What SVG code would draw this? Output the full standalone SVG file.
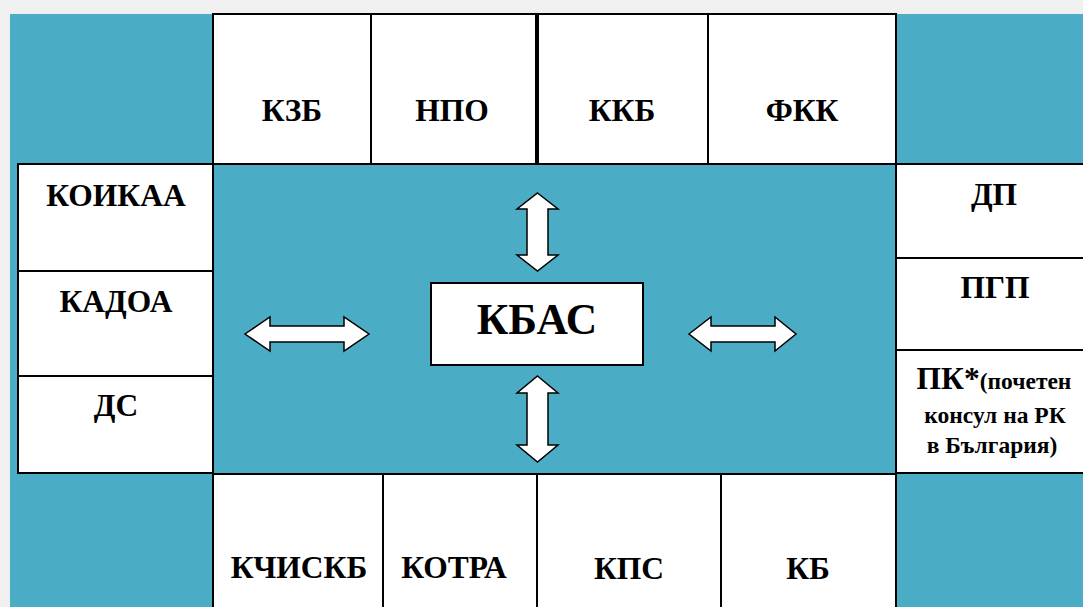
<svg xmlns="http://www.w3.org/2000/svg" width="1083" height="607" viewBox="0 0 1083 607">
<style>
.box{fill:#ffffff;stroke:#000000;stroke-width:2}
.mid{fill:#4BACC6;stroke:#000000;stroke-width:2}
.t{font-family:"Liberation Serif","Times New Roman",serif;font-weight:bold;font-size:31.5px;fill:#000000;text-anchor:middle}
.s{font-size:23.5px}
.big{font-size:43.5px}
.arr{fill:#ffffff;stroke:#000000;stroke-width:1.5;stroke-linejoin:miter}
</style>
<rect x="0" y="0" width="1083" height="607" fill="#f0f0f0"/>
<rect x="10" y="14" width="1073" height="593" fill="#4BACC6"/>
<rect id="center-area" class="mid" x="213" y="164" width="683" height="310"/>

<g id="n-kzb"><rect class="box" x="213" y="14" width="158" height="150"/><text class="t" x="292" y="121">КЗБ</text></g>
<g id="n-npo"><rect class="box" x="371" y="14" width="165" height="150"/><text class="t" x="452" y="121">НПО</text></g>
<g id="n-kkb"><rect class="box" x="538" y="14" width="170" height="150"/><text class="t" x="622" y="121">ККБ</text></g>
<g id="n-fkk"><rect class="box" x="708" y="14" width="188" height="150"/><text class="t" x="802" y="121">ФКК</text></g>

<g id="n-koikaa"><rect class="box" x="18" y="164" width="195" height="107"/><text class="t" x="116" y="206">КОИКАА</text></g>
<g id="n-kadoa"><rect class="box" x="18" y="271" width="195" height="105"/><text class="t" x="116" y="312">КАДОА</text></g>
<g id="n-ds"><rect class="box" x="18" y="376" width="195" height="97"/><text class="t" x="116" y="416">ДС</text></g>

<g id="n-dp"><rect class="box" x="896" y="164" width="200" height="94"/><text class="t" x="994" y="205">ДП</text></g>
<g id="n-pgp"><rect class="box" x="896" y="258" width="200" height="92"/><text class="t" x="995" y="298">ПГП</text></g>
<g id="n-pk"><rect class="box" x="896" y="350" width="200" height="123"/>
<text class="t" x="994" y="389">ПК*<tspan class="s">(почетен</tspan></text>
<text class="t s" x="995" y="423">консул на РК</text>
<text class="t s" x="992" y="453">в България)</text></g>

<g id="n-kchiskb"><rect class="box" x="213" y="474" width="170" height="150"/><text class="t" x="299" y="578">КЧИСКБ</text></g>
<g id="n-kotra"><rect class="box" x="383" y="474" width="154" height="150"/><text class="t" x="454" y="578">КОТРА</text></g>
<g id="n-kps"><rect class="box" x="537" y="474" width="184" height="150"/><text class="t" x="629" y="579">КПС</text></g>
<g id="n-kb"><rect class="box" x="721" y="474" width="175" height="150"/><text class="t" x="808" y="579">КБ</text></g>

<g id="n-kbas"><rect class="box" x="431" y="283" width="212" height="82"/><text class="t big" x="537" y="334">КБАС</text></g>

<g id="connectors">
<polygon class="arr" points="537.5,193 558,209 548,209 548,255 558,255 537.5,271 517,255 527,255 527,209 517,209"/>
<polygon class="arr" points="537.5,376 558,393 548,393 548,445 558,445 537.5,462 517,445 527,445 527,393 517,393"/>
<polygon class="arr" points="245,334 270,317 270,326 344,326 344,317 369,334 344,351 344,342 270,342 270,351"/>
<polygon class="arr" points="689,334 711,317 711,326 775,326 775,317 796,334 775,351 775,342 711,342 711,351"/>
</g>
</svg>
